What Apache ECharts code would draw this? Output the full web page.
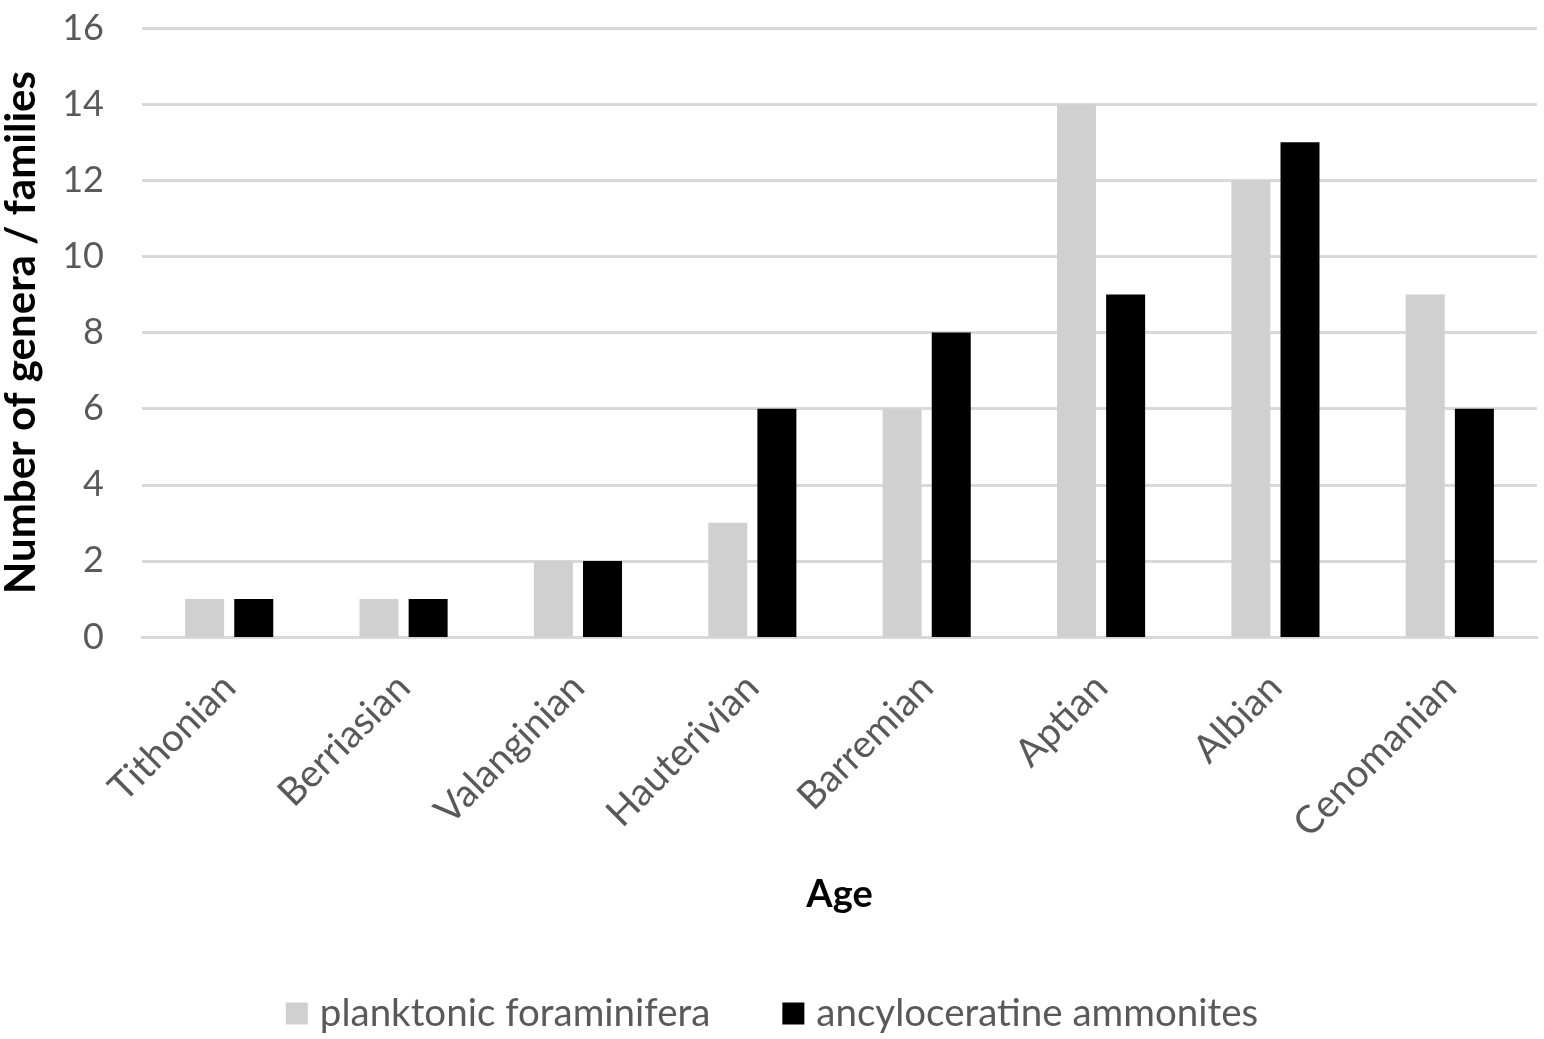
<!DOCTYPE html>
<html><head><meta charset="utf-8">
<script src="https://cdn.jsdelivr.net/npm/echarts@6/dist/echarts.min.js"></script>
<style>html,body{margin:0;padding:0;background:#fff}#c{width:1544px;height:1039px}</style>
</head><body><div id="c"></div>
<script>
const categories = ["Tithonian","Berriasian","Valanginian","Hauterivian","Barremian","Aptian","Albian","Cenomanian"];
const planktonicForaminifera = [1,1,2,3,6,14,12,9];
const ancyloceratineAmmonites = [1,1,2,6,8,9,13,6];
const yTicks = {min:0, max:16, interval:2};
const FONT = "Lato";
const chart = echarts.init(document.getElementById('c'));
chart.setOption({
  animation:false,
  backgroundColor:'#fff',
  textStyle:{fontFamily:FONT},
  grid:{left:142,right:7,top:28,bottom:402,containLabel:false,outerBoundsMode:'none'},
  legend:{
    bottom:1,left:'center',icon:'rect',itemWidth:22,itemHeight:22,itemGap:72,
    textStyle:{fontSize:38.5,color:'#595959',fontFamily:FONT,padding:[0,0,0,7]},
    data:['planktonic foraminifera','ancyloceratine ammonites']
  },
  xAxis:{
    type:'category',data:categories,
    axisLine:{lineStyle:{color:'#d9d9d9',width:3}},
    axisTick:{show:false},
    axisLabel:{rotate:45,fontSize:38.5,color:'#595959',margin:44,interval:0,fontFamily:FONT},
    name:'Age',nameLocation:'middle',nameGap:239,nameMoveOverlap:false,
    nameTextStyle:{fontSize:38,fontWeight:'bold',color:'#000',fontFamily:FONT}
  },
  yAxis:{
    type:'value',min:yTicks.min,max:yTicks.max,interval:yTicks.interval,
    axisLine:{show:false},axisTick:{show:false},
    splitLine:{lineStyle:{color:'#d9d9d9',width:3}},
    axisLabel:{fontSize:36,color:'#595959',margin:38,fontFamily:FONT},
    name:'Number of genera / families',nameLocation:'middle',nameGap:100,nameMoveOverlap:false,
    nameTextStyle:{fontSize:42,fontWeight:'bold',color:'#000',fontFamily:FONT}
  },
  series:[
    {name:'planktonic foraminifera',type:'bar',data:planktonicForaminifera,barWidth:39,barGap:'26%',itemStyle:{color:'#d0d0d0'}},
    {name:'ancyloceratine ammonites',type:'bar',data:ancyloceratineAmmonites,barWidth:39,barGap:'26%',itemStyle:{color:'#000000'}}
  ]
});
</script></body></html>
